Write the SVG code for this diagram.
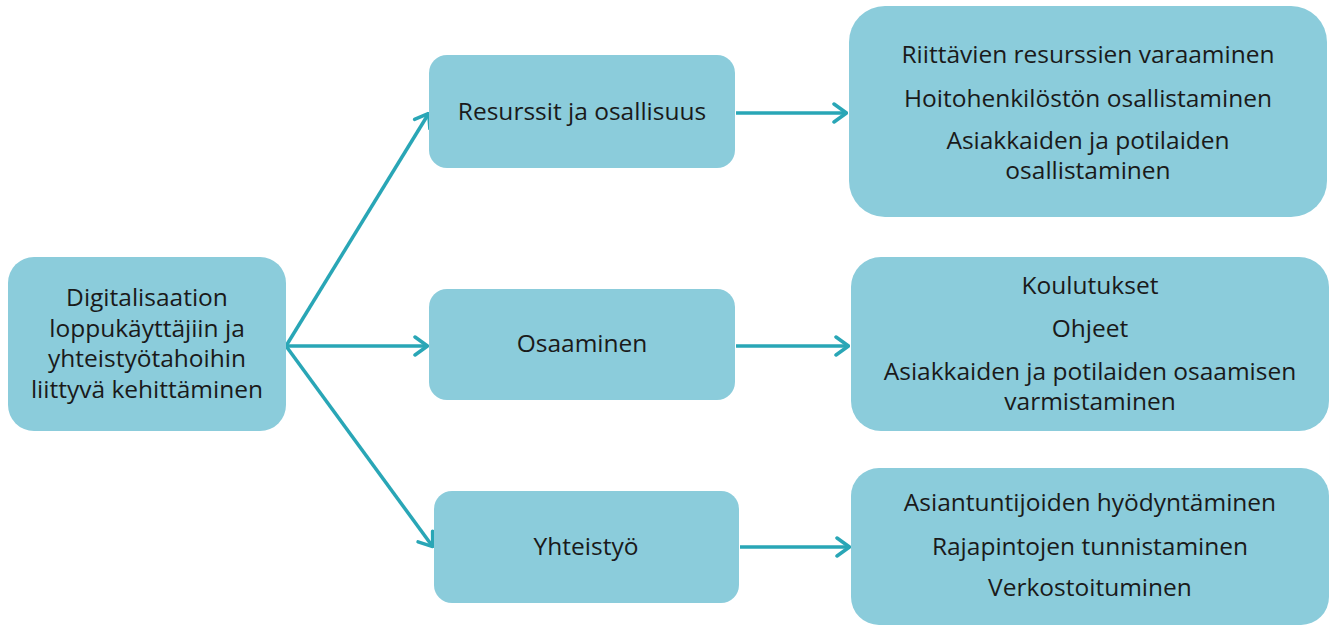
<svg xmlns="http://www.w3.org/2000/svg" width="1335" height="626" viewBox="0 0 1335 626">
  <defs>
    <style>
      .box { fill: #8bccdb; }
      .t { font-family: "Open Sans", "Liberation Sans", sans-serif; font-size: 24.5px; fill: #1a1a1a; text-anchor: middle; }
      .link { stroke: #29a6b6; stroke-width: 3.5; fill: none; marker-end: url(#arrow); }
    </style>
    <marker id="arrow" viewBox="0 0 16 22" refX="15" refY="11" markerWidth="16" markerHeight="22" markerUnits="userSpaceOnUse" orient="auto">
      <path d="M2,2 L14.5,11 L2,20" fill="none" stroke="#29a6b6" stroke-width="3.5" stroke-linecap="round" stroke-linejoin="round"/>
    </marker>
  </defs>

  <g id="connectors">
    <line class="link" x1="286" y1="346" x2="429" y2="113"/>
    <line class="link" x1="286" y1="346" x2="428" y2="346"/>
    <line class="link" x1="286" y1="346" x2="433" y2="547"/>
    <line class="link" x1="736" y1="113" x2="847" y2="113"/>
    <line class="link" x1="736" y1="346" x2="849" y2="346"/>
    <line class="link" x1="740" y1="547" x2="850" y2="547"/>
  </g>

  <g id="root">
    <rect class="box" x="8" y="257" width="278" height="174" rx="26"/>
    <text class="t" x="147" y="306">Digitalisaation</text>
    <text class="t" x="147" y="336.5">loppukäyttäjiin ja</text>
    <text class="t" x="147" y="367">yhteistyötahoihin</text>
    <text class="t" x="147" y="397.5">liittyvä kehittäminen</text>
  </g>

  <g id="resurssit">
    <rect class="box" x="429" y="55" width="306" height="113" rx="18"/>
    <text class="t" x="582" y="120">Resurssit ja osallisuus</text>
  </g>

  <g id="osaaminen">
    <rect class="box" x="429" y="289" width="306" height="111" rx="18"/>
    <text class="t" x="582" y="352">Osaaminen</text>
  </g>

  <g id="yhteistyo">
    <rect class="box" x="434" y="491" width="305" height="112" rx="18"/>
    <text class="t" x="586" y="555">Yhteistyö</text>
  </g>

  <g id="resurssit-items">
    <rect class="box" x="849" y="6" width="478" height="211" rx="36"/>
    <text class="t" x="1088" y="63">Riittävien resurssien varaaminen</text>
    <text class="t" x="1088" y="107">Hoitohenkilöstön  osallistaminen</text>
    <text class="t" x="1088" y="149">Asiakkaiden ja potilaiden</text>
    <text class="t" x="1088" y="179">osallistaminen</text>
  </g>

  <g id="osaaminen-items">
    <rect class="box" x="851" y="257" width="478" height="174" rx="30"/>
    <text class="t" x="1090" y="294">Koulutukset</text>
    <text class="t" x="1090" y="337">Ohjeet</text>
    <text class="t" x="1090" y="380">Asiakkaiden ja potilaiden osaamisen</text>
    <text class="t" x="1090" y="410">varmistaminen</text>
  </g>

  <g id="yhteistyo-items">
    <rect class="box" x="851" y="468" width="478" height="157" rx="28"/>
    <text class="t" x="1090" y="511">Asiantuntijoiden hyödyntäminen</text>
    <text class="t" x="1090" y="555">Rajapintojen tunnistaminen</text>
    <text class="t" x="1090" y="596">Verkostoituminen</text>
  </g>
</svg>
